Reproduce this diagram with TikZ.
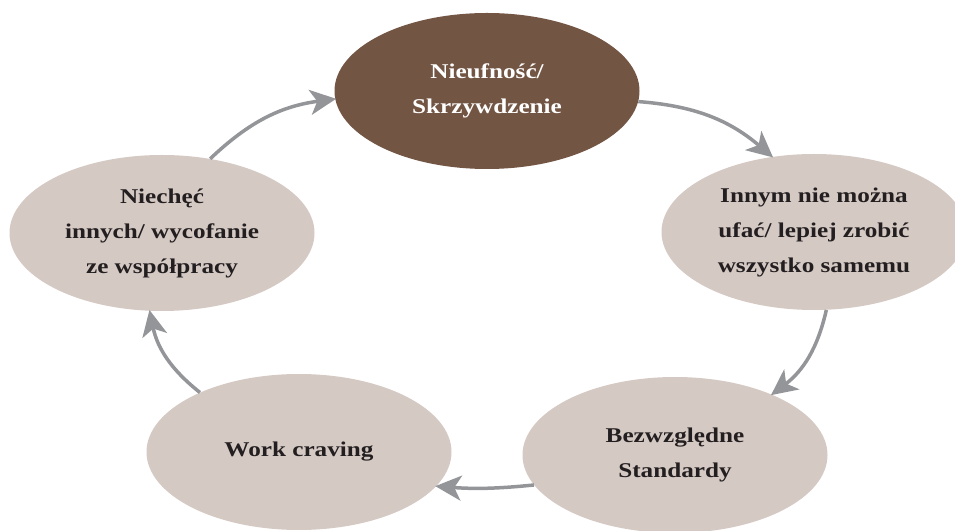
\documentclass[tikz,border=0pt]{standalone}
\usepackage{fontspec}
\setmainfont[FakeStretch=1.2]{Liberation Serif}
\usetikzlibrary{shapes.geometric,arrows.meta}
\definecolor{darkbrown}{HTML}{735544}
\definecolor{lightbrown}{HTML}{D5C9C4}
\definecolor{arrowgrey}{HTML}{939598}
\definecolor{textdark}{HTML}{231F20}
\tikzset{
  stage/.style={ellipse, draw=none, fill=lightbrown, inner sep=0pt,
    minimum width=305pt, minimum height=156pt, align=center,
    text=textdark, font=\fontsize{21}{35}\selectfont\bfseries},
  keystage/.style={stage, fill=darkbrown, text=white},
  flow/.style={draw=arrowgrey, line width=3.5pt,
    -{Stealth[length=26pt, width=25pt, inset=7pt]}, shorten >=-1pt}
}
\begin{document}
\begin{tikzpicture}[x=1pt, y=1pt]
  \useasboundingbox (0,0) rectangle (955,530);
  % the five stages of the cycle
  \node[keystage] (top)   at (487,439) {Nieufność/\\Skrzywdzenie};
  \node[stage]    (right) at (814,298) {Innym nie można\\ufać/ lepiej zrobić\\wszystko samemu};
  \node[stage]    (br)    at (675,75)  {Bezwzględne\\Standardy};
  \node[stage]    (bl)    at (299,78)  {Work craving};
  \node[stage]    (left)  at (162,297) {Niechęć\\innych/ wycofanie\\ze współpracy};
  % clockwise arrows between the stages
  \draw[flow] (top.-4)    to[bend left=18] (right.119);
  \draw[flow] (right.-81) to[bend left=20] (br.32);
  \draw[flow] (br.192)    to[bend left=5]  (bl.-14);
  \draw[flow] (bl.149)    to[bend left=20] (left.-99);
  \draw[flow] (left.57)   to[bend left=18] (top.183);
\end{tikzpicture}
\end{document}
